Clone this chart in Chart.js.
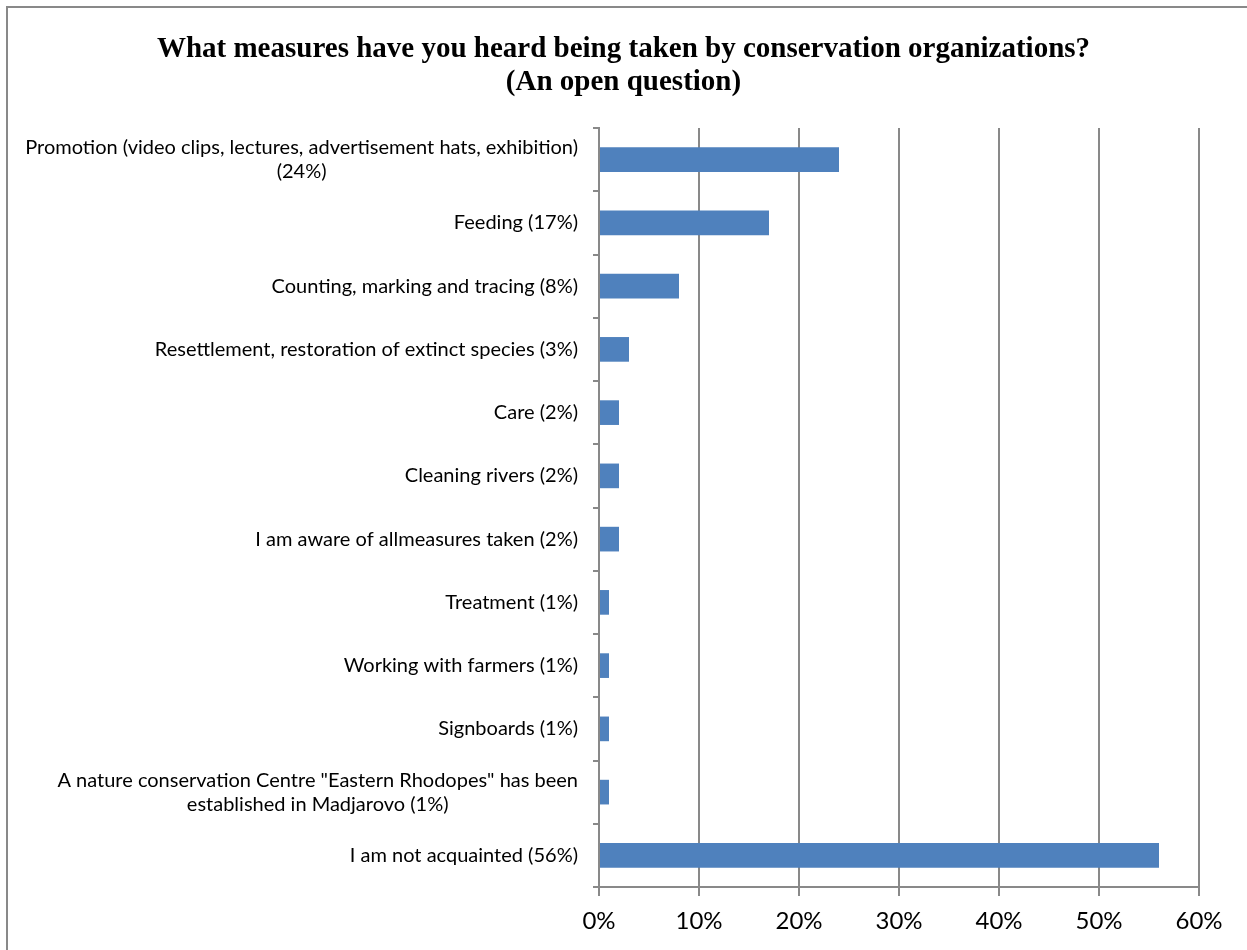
<!DOCTYPE html>
<html>
<head>
<meta charset="utf-8">
<script src="https://cdn.jsdelivr.net/npm/chart.js@4.4.1/dist/chart.umd.min.js"></script>
<style>
  html, body { margin: 0; padding: 0; background: #fff; overflow: hidden; }
</style>
</head>
<body>
<canvas id="chart" width="1247" height="950"></canvas>
<script>
// answers, top to bottom; two-line entries are wrapped labels
const categories = [
  ['Promotion (video clips, lectures, advertisement hats, exhibition)', '(24%)'],
  'Feeding (17%)',
  'Counting, marking and tracing (8%)',
  'Resettlement, restoration of extinct species (3%)',
  'Care (2%)',
  'Cleaning rivers (2%)',
  'I am aware of allmeasures taken (2%)',
  'Treatment (1%)',
  'Working with farmers (1%)',
  'Signboards (1%)',
  ['A nature conservation Centre "Eastern Rhodopes" has been', 'established in Madjarovo (1%)'],
  'I am not acquainted (56%)'
]
const shares = [24, 17, 8, 3, 2, 2, 2, 1, 1, 1, 1, 56]
const xTicks = [0, 10, 20, 30, 40, 50, 60]

const titleLines = [
  'What measures have you heard being taken by conservation organizations?',
  '(An open question)'
]

const axisGrey = '#898989'
const labelFont = '20px Lato'

// outer frame of the chart
const framePlugin = {
  id: 'frame',
  beforeDraw(chart) {
    const ctx = chart.ctx
    ctx.save()
    ctx.strokeStyle = axisGrey
    ctx.lineWidth = 2
    ctx.strokeRect(7, 7, chart.width + 20, chart.height + 20)
    ctx.restore()
  }
}

// category labels: block right-aligned, wrapped lines centred on each other
const categoryLabels = {
  id: 'categoryLabels',
  afterDraw(chart) {
    const ctx = chart.ctx
    const y = chart.scales.y
    const right = chart.chartArea.left - 21
    const lineH = 24
    ctx.save()
    ctx.font = labelFont
    ctx.fillStyle = '#000'
    ctx.textBaseline = 'middle'
    ctx.textAlign = 'center'
    chart.data.labels.forEach((lbl, i) => {
      const lines = Array.isArray(lbl) ? lbl : [lbl]
      const w = Math.max(...lines.map(l => ctx.measureText(l).width))
      const cx = right - w / 2
      const cy = y.getPixelForValue(i)
      const top = cy - (lines.length - 1) * lineH / 2
      lines.forEach((l, k) => ctx.fillText(l, cx, top + k * lineH))
    })
    ctx.restore()
  }
}

new Chart(document.getElementById('chart'), {
  type: 'bar',
  data: {
    labels: categories,
    datasets: [{
      data: shares,
      backgroundColor: '#4F81BD',
      barPercentage: 0.39,
      categoryPercentage: 1
    }]
  },
  options: {
    indexAxis: 'y',
    responsive: false,
    devicePixelRatio: 1,
    animation: false,
    layout: { padding: { left: 48, right: 48, top: 0, bottom: 0 } },
    plugins: {
      legend: { display: false },
      tooltip: { enabled: false },
      title: {
        display: true,
        text: titleLines,
        color: '#000',
        font: { family: 'Liberation Serif', size: 29, weight: 'bold', lineHeight: '33px' },
        padding: { top: 33, bottom: 29 }
      }
    },
    scales: {
      x: {
        min: 0,
        max: 60,
        afterBuildTicks: s => { s.ticks = xTicks.map(v => ({ value: v })) },
        afterFit: s => { s.height = 63 },
        ticks: {
          color: '#000',
          font: { family: 'Lato', size: 24 },
          padding: 11,
          callback: v => v + '%'
        },
        grid: { color: axisGrey, lineWidth: 2, tickLength: 9 },
        border: { color: axisGrey, width: 2 }
      },
      y: {
        type: 'category',
        afterFit: s => { s.width = 551 },
        ticks: { display: false },
        grid: {
          offset: true,
          drawOnChartArea: false,
          drawTicks: true,
          tickLength: 6,
          color: axisGrey,
          lineWidth: 2
        },
        border: { color: axisGrey, width: 2 }
      }
    }
  },
  plugins: [framePlugin, categoryLabels]
})
</script>
</body>
</html>
